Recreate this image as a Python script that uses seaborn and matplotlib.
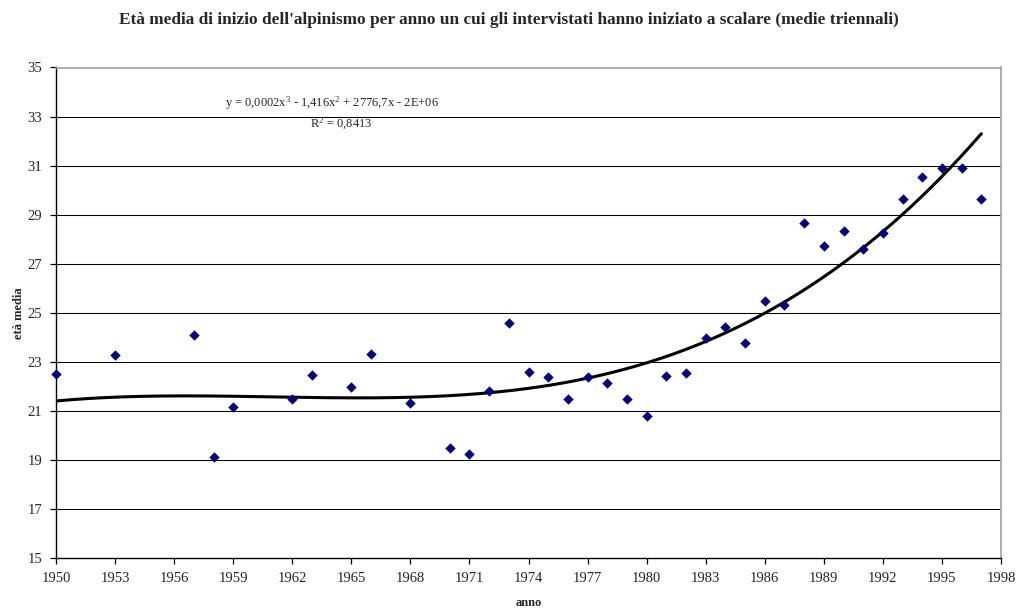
import numpy as np
import pandas as pd
import matplotlib
matplotlib.use("Agg")
import matplotlib.pyplot as plt
import seaborn as sns

# Anno di inizio e età media (medie triennali)
anni = [1950, 1953, 1957, 1958, 1959, 1962, 1963, 1965, 1966, 1968,
        1970, 1971, 1972, 1973, 1974, 1975, 1976, 1977, 1978, 1979,
        1980, 1981, 1982, 1983, 1984, 1985, 1986, 1987, 1988, 1989,
        1990, 1991, 1992, 1993, 1994, 1995, 1996, 1997]
eta_media = [22.51, 23.28, 24.10, 19.10, 21.14, 21.47, 22.48, 21.97, 23.30, 21.30,
             19.50, 19.26, 21.81, 24.57, 22.58, 22.36, 21.49, 22.39, 22.12, 21.49,
             20.81, 22.44, 22.55, 23.97, 24.41, 23.77, 25.48, 25.32, 28.67, 27.72,
             28.32, 27.59, 28.27, 29.65, 30.52, 30.91, 30.90, 29.65]

# Linea di tendenza polinomiale (grado 3), coefficienti in (anno - 1970),
# dal termine costante al cubico
tendenza_coef = [21.62, 0.0446, 0.0065, 0.0002407]
tendenza_range = [1950, 1997]

x_ticks = list(range(1950, 1999, 3))
y_ticks = list(range(15, 36, 2))

titolo = "Età media di inizio dell'alpinismo per anno un cui gli intervistati hanno iniziato a scalare (medie triennali)"
equazione = r"y = 0,0002x$^3$ - 1,416x$^2$ + 2776,7x - 2E+06"
r_quadro = r"R$^2$ = 0,8413"

df = pd.DataFrame({"anno": anni, "eta": eta_media})

x_fit = np.linspace(tendenza_range[0], tendenza_range[1], 300)
trend = pd.DataFrame({
    "anno": x_fit,
    "eta": np.polynomial.polynomial.polyval(x_fit - 1970, tendenza_coef),
})

sns.set_style("white")
plt.rcParams["font.family"] = ["Liberation Serif", "DejaVu Serif"]
plt.rcParams["mathtext.fontset"] = "custom"
plt.rcParams["mathtext.rm"] = "Liberation Serif"
plt.rcParams["mathtext.it"] = "Liberation Serif"

fig = plt.figure(figsize=(10.17, 6.14), dpi=100)
ax = fig.add_axes([56 / 1017, 1 - 558 / 614, (1001 - 56) / 1017, (558 - 67.5) / 614])

for y in y_ticks[1:-1]:
    ax.axhline(y, color="#000000", lw=0.75, zorder=1)

sns.lineplot(data=trend, x="anno", y="eta", color="black", lw=2.2, ax=ax, zorder=3)
sns.scatterplot(data=df, x="anno", y="eta", marker="D", color="#000080",
                s=28, edgecolor="#000080", linewidth=0, ax=ax, zorder=4, clip_on=False)

ax.set_xlim(1950, 1998)
ax.set_ylim(15, 35)
ax.set_xticks(x_ticks)
ax.set_yticks(y_ticks)
ax.tick_params(axis="both", direction="out", length=4, width=0.9, color="black",
               labelsize=10.5, pad=6, bottom=True, left=True)

for side in ("left", "bottom"):
    ax.spines[side].set_color("black")
    ax.spines[side].set_linewidth(1.0)
for side in ("top", "right"):
    ax.spines[side].set_color("#a0a0a0")
    ax.spines[side].set_linewidth(1.2)

ax.set_xlabel("anno", fontsize=9, fontweight="bold", labelpad=9)
ax.set_ylabel("età media", fontsize=9, fontweight="bold", labelpad=2)

ax.text(1958.6, 33.56, equazione, fontsize=9, va="center", ha="left", zorder=5)
ax.text(1962.9, 32.70, r_quadro, fontsize=9, va="center", ha="left", zorder=5)

fig.text(0.5, 1 - 20 / 614, titolo, ha="center", va="center",
         fontsize=12.4, fontweight="bold")

fig.savefig("out.png", dpi=100, facecolor="white")
